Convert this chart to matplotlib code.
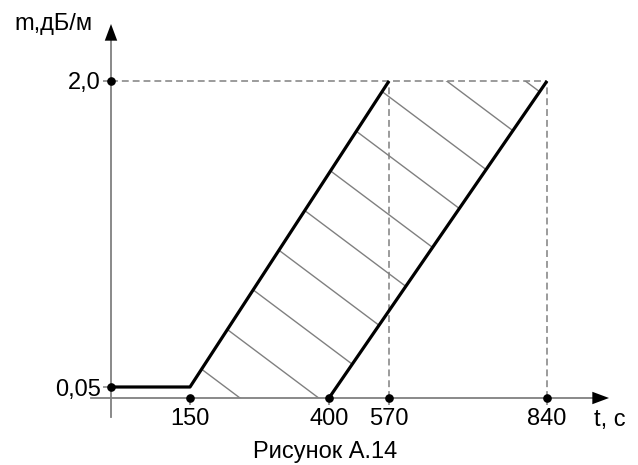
import numpy as np
import matplotlib
matplotlib.use("Agg")
import matplotlib.pyplot as plt
from matplotlib.patches import Polygon
from matplotlib.transforms import IdentityTransform

# Chart values
t_ticks = [150, 400, 570, 840]
t_labels = ["150", "400", "570", "840"]
m_ticks = [0.05, 2.0]
m_labels = ["0,05", "2,0"]

# lower (left) boundary: flat at 0,05 until 150 s, then rises to 2,0 at 570 s
lower_t = [0, 150, 570]
lower_m = [0.05, 0.05, 2.0]
# upper (right) boundary: from 400 s to 840 s
upper_t = [400, 840]
upper_m = [0.0, 2.0]

# marked points
dot_t = [0, 0, 150, 400, 570, 840]
dot_m = [2.0, 0.05, 0, 0, 0, 0]

W, H = 638, 465
GRAY = "#808080"
FS = 17

# schematic (non-uniform) axis: knots map values to pixel positions
T_KNOTS = [0, 150, 400, 570, 840]
X_PIX = [111, 190, 329, 389, 547]
M_KNOTS = [0, 0.05, 2.0]
Y_PIX = [H - 398, H - 387, H - 81]


def piecewise(src, dst):
    src = np.asarray(src, float)
    dst = np.asarray(dst, float)
    lo = (dst[1] - dst[0]) / (src[1] - src[0])
    hi = (dst[-1] - dst[-2]) / (src[-1] - src[-2])

    def f(v):
        v = np.asarray(v, float)
        out = np.interp(v, src, dst)
        out = np.where(v < src[0], dst[0] + (v - src[0]) * lo, out)
        out = np.where(v > src[-1], dst[-1] + (v - src[-1]) * hi, out)
        return out
    return f


x_fwd, x_inv = piecewise(T_KNOTS, X_PIX), piecewise(X_PIX, T_KNOTS)
y_fwd, y_inv = piecewise(M_KNOTS, Y_PIX), piecewise(Y_PIX, M_KNOTS)

plt.rcParams["font.family"] = ["Liberation Sans", "DejaVu Sans"]

fig = plt.figure(figsize=(W / 100, H / 100), dpi=100)
ax = fig.add_axes([0, 0, 1, 1])
ax.set_xscale("function", functions=(x_fwd, x_inv))
ax.set_yscale("function", functions=(y_fwd, y_inv))
ax.set_xlim(float(x_inv(0)), float(x_inv(W)))
ax.set_ylim(float(y_inv(0)), float(y_inv(H)))
ax.patch.set_visible(False)

# Axes lines through zero
for side in ["top", "right"]:
    ax.spines[side].set_visible(False)
ax.spines["left"].set_position(("data", 0))
ax.spines["bottom"].set_position(("data", 0))
ax.spines["left"].set_bounds(float(y_inv(H - 417)), float(y_inv(H - 32)))
ax.spines["bottom"].set_bounds(float(x_inv(91)), float(x_inv(600)))
for side in ["left", "bottom"]:
    ax.spines[side].set_color(GRAY)
    ax.spines[side].set_linewidth(1.3)

ax.set_xticks(t_ticks, t_labels, fontsize=FS)
ax.set_yticks(m_ticks, m_labels, fontsize=FS)
ax.xaxis.set_minor_locator(matplotlib.ticker.NullLocator())
ax.yaxis.set_minor_locator(matplotlib.ticker.NullLocator())
ax.tick_params(axis="x", length=5, width=1.1, color=GRAY, pad=2.5, direction="out")
ax.tick_params(axis="y", length=6, width=1.1, color=GRAY, pad=1.5, direction="out")

# Arrow heads
head = dict(arrowstyle="-|>,head_length=0.75,head_width=0.28", color="black",
            lw=0, mutation_scale=16, shrinkA=0, shrinkB=0)
ax.annotate("", xy=(0, 1 - 24 / H), xytext=(0, 1 - 40 / H),
            xycoords=ax.get_xaxis_transform(), arrowprops=head)
ax.annotate("", xy=(609 / W, 0), xytext=(593 / W, 0),
            xycoords=ax.get_yaxis_transform(), arrowprops=head)

# Dashed guide lines
dash = dict(color=GRAY, lw=1.1, dashes=(4.5, 2.6), zorder=2)
ax.plot([0, upper_t[-1]], [m_ticks[-1], m_ticks[-1]], **dash)
ax.plot([lower_t[-1], lower_t[-1]], [0, lower_m[-1]], **dash)
ax.plot([upper_t[-1], upper_t[-1]], [0, upper_m[-1]], **dash)

# Hatched band between the two boundaries
band = Polygon(list(zip(lower_t[1:], lower_m[1:])) +
               list(zip(upper_t[::-1], upper_m[::-1])) + [(lower_t[1], 0)],
               closed=True, facecolor="none", edgecolor="none")
ax.add_patch(band)
xs = np.array([80.0, 620.0])
for k in range(12):
    c = -313 + 59 * k
    ln, = ax.plot(xs, H - (0.75 * xs + c), color=GRAY, lw=1.0,
                  transform=IdentityTransform(), zorder=3)
    ln.set_clip_path(band)

ax.plot(lower_t, lower_m, color="black", lw=2.3, zorder=4, solid_capstyle="butt")
ax.plot(upper_t, upper_m, color="black", lw=2.3, zorder=4, solid_capstyle="butt")
ax.plot(dot_t, dot_m, "o", color="black", ms=5.2, zorder=5, clip_on=False)

# Axis names and caption
fig.text(14 / W, 1 - 24 / H, "m,дБ/м", fontsize=FS, ha="left", va="center")
fig.text(594 / W, 1 - 420 / H, "t, с", fontsize=FS, ha="left", va="center")
fig.text(325 / W, 1 - 452 / H, "Рисунок А.14", fontsize=FS, ha="center", va="center")

fig.savefig("out.png", dpi=100)
